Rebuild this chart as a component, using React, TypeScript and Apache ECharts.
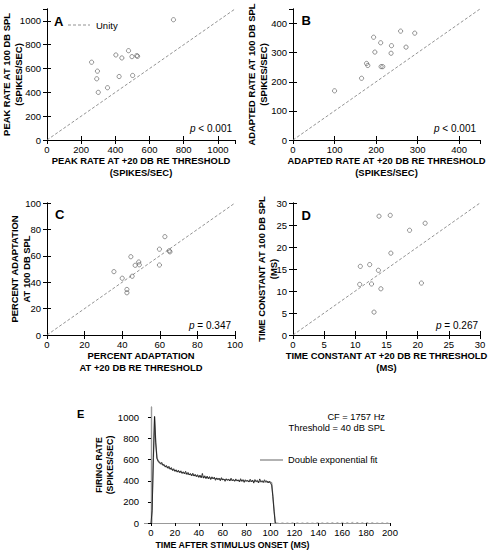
import React, { useEffect, useRef } from "react";
import * as echarts from "echarts";

const FONT = "'Liberation Sans', Arial, Helvetica, sans-serif";

// Panel A: peak rate (spikes/sec)
const peakRate20 = [740, 261, 403, 438, 477, 497, 525, 530, 295, 291, 422, 501, 300, 354];
const peakRate100 = [1010, 653, 714, 689, 750, 700, 708, 703, 578, 514, 533, 542, 400, 439];
// Panel B: adapted rate (spikes/sec)
const adaptRate20 = [100, 165, 177, 180, 194, 197, 211, 212, 216, 236, 237, 259, 272, 293];
const adaptRate100 = [169, 212, 263, 256, 353, 302, 334, 252, 252, 298, 324, 374, 319, 367];
// Panel C: percent adaptation
const pctAdapt20 = [35.6, 40, 42.5, 42.5, 44.6, 45.3, 46.9, 48.8, 49.1, 59.8, 59.8, 62.7, 65, 65.4];
const pctAdapt100 = [48, 43, 34.5, 32, 59.3, 44.5, 52.8, 55.3, 53.2, 65, 53, 74.5, 63.8, 63];
// Panel D: time constant (ms)
const tau20 = [10.8, 10.7, 12.3, 12.6, 13.0, 13.7, 13.8, 14.1, 15.6, 15.7, 18.7, 20.6, 21.2];
const tau100 = [15.6, 11.5, 16.0, 11.6, 5.2, 14.7, 27.0, 10.5, 27.2, 18.6, 23.8, 11.8, 25.4];

// Panel E: PSTH, 1-ms bins starting at 0 ms
const firingRate = [
  0, 120, 620, 1010, 760, 610, 585, 570, 560, 575,
  548, 556, 530, 545, 520, 538, 510, 526, 498, 515,
  490, 505, 482, 500, 478, 495, 470, 486, 468, 490,
  462, 480, 455, 470, 448, 472, 445, 462, 440, 458,
  432, 455, 428, 470, 425, 448, 420, 445, 418, 440,
  412, 438, 420, 435, 405, 428, 410, 425, 400, 430,
  408, 418, 395, 420, 405, 415, 398, 425, 402, 412,
  395, 418, 400, 410, 390, 420, 396, 412, 385, 410,
  398, 405, 388, 415, 392, 408, 378, 412, 395, 405,
  380, 418, 390, 402, 385, 410, 392, 400, 380, 395,
  375, 360, 250, 110, 0, 0,
];
const fitTime = [0.5, 3, 4, 5, 6, 8, 10, 15, 20, 30, 40, 50, 60, 70, 80, 90, 100, 101, 104];
const fitRate = [0, 1010, 760, 620, 590, 567, 550, 520, 497, 465, 442, 425, 413, 404, 398, 393, 389, 380, 0];
const tailTime = [105, 110, 115, 120, 125, 130, 135, 140, 145, 150, 155, 160, 165, 170, 175, 180, 185, 190, 195, 200];
const tailRate = [0, 2, 0, 3, 0, 2, 0, 4, 0, 3, 2, 6, 3, 7, 2, 4, 3, 0, 2, 0];
const eTicks = [0, 20, 40, 60, 80, 100, 120, 140, 160, 180, 200];

const pairs = (xs: number[], ys: number[]) => xs.map((x, i) => [x, ys[i]]);
const plain = (v: number) => String(v);

type Panel = {
  grid: { left: number; top: number; width: number; height: number };
  max: number;
  interval: number;
  showMax: boolean;
  xName: string;
  yName: string;
  xGap: number;
  yGap: number;
  xs: number[];
  ys: number[];
};

const panels: Panel[] = [
  {
    grid: { left: 47, top: 9, width: 188, height: 131 },
    max: 1100, interval: 200, showMax: false,
    xName: "PEAK RATE AT +20 DB RE THRESHOLD\n(SPIKES/SEC)",
    yName: "PEAK RATE AT 100 DB SPL\n(SPIKES/SEC)",
    xGap: 15, yGap: 23, xs: peakRate20, ys: peakRate100,
  },
  {
    grid: { left: 293, top: 9, width: 187, height: 131 },
    max: 450, interval: 100, showMax: false,
    xName: "ADAPTED RATE AT +20 DB RE THRESHOLD\n(SPIKES/SEC)",
    yName: "ADAPTED RATE AT 100 DB SPL\n(SPIKES/SEC)",
    xGap: 15, yGap: 24, xs: adaptRate20, ys: adaptRate100,
  },
  {
    grid: { left: 47, top: 203, width: 188, height: 132 },
    max: 100, interval: 20, showMax: true,
    xName: "PERCENT ADAPTATION\nAT +20 DB RE THRESHOLD",
    yName: "PERCENT ADAPTATION\nAT 100 DB SPL",
    xGap: 15, yGap: 15, xs: pctAdapt20, ys: pctAdapt100,
  },
  {
    grid: { left: 293, top: 203, width: 187, height: 132 },
    max: 30, interval: 5, showMax: true,
    xName: "TIME CONSTANT AT +20 DB RE THRESHOLD\n(MS)",
    yName: "TIME CONSTANT AT 100 DB SPL\n(MS)",
    xGap: 15, yGap: 14, xs: tau20, ys: tau100,
  },
];

const nameStyle = { fontSize: 9.4, fontWeight: "bold" as const, fontFamily: FONT, color: "#000", lineHeight: 11.5 };
const labelStyle = { fontSize: 9.5, fontFamily: FONT, color: "#000", formatter: plain };

function buildOption() {
  const grids: any[] = [];
  const xAxes: any[] = [];
  const yAxes: any[] = [];
  const series: any[] = [];
  const graphics: any[] = [];

  panels.forEach((p, i) => {
    grids.push({ ...p.grid, containLabel: false });
    const common = {
      gridIndex: i, type: "value", min: 0, max: p.max, interval: p.interval,
      axisLine: { show: true, lineStyle: { color: "#000", width: 1 } },
      axisTick: { show: true, inside: true, length: 4, lineStyle: { color: "#000", width: 1 } },
      splitLine: { show: false },
    };
    xAxes.push({
      ...common, position: "bottom",
      axisLabel: { ...labelStyle, margin: 4, showMaxLabel: p.showMax },
      name: p.xName, nameLocation: "middle", nameGap: p.xGap, nameTextStyle: nameStyle, nameMoveOverlap: false,
    });
    xAxes.push({ ...common, position: "top", axisLabel: { show: false } });
    yAxes.push({
      ...common, position: "left",
      axisLabel: { ...labelStyle, margin: 6, showMaxLabel: p.showMax },
      name: p.yName, nameLocation: "middle", nameRotate: 90, nameGap: p.yGap, nameTextStyle: nameStyle, nameMoveOverlap: false,
    });
    yAxes.push({ ...common, position: "right", axisLabel: { show: false } });

    series.push({
      type: "line", xAxisIndex: 2 * i, yAxisIndex: 2 * i,
      data: [[0, 0], [p.max, p.max]], showSymbol: false, symbol: "none",
      lineStyle: { color: "#777", width: 0.8, type: [3, 2] }, silent: true, z: 1,
    });
    series.push({
      type: "scatter", xAxisIndex: 2 * i, yAxisIndex: 2 * i,
      data: pairs(p.xs, p.ys), symbol: "circle", symbolSize: 4.2,
      itemStyle: { color: "rgba(255,255,255,0)", borderColor: "#555", borderWidth: 0.8 }, z: 2,
    });
  });

  // Panel E
  grids.push({ left: 145, top: 407, width: 245, height: 116, containLabel: false });
  xAxes.push({
    gridIndex: 4, type: "value", min: -5, max: 200, position: "bottom",
    axisLine: { show: true, lineStyle: { color: "#000", width: 1 } },
    axisTick: { show: true, inside: false, length: 3, customValues: eTicks, lineStyle: { color: "#000" } },
    axisLabel: { ...labelStyle, margin: 4, customValues: eTicks },
    splitLine: { show: false },
    name: "TIME AFTER STIMULUS ONSET (MS)", nameLocation: "middle", nameGap: 16, nameMoveOverlap: false,
    nameTextStyle: { ...nameStyle, fontSize: 8.8, padding: [0, 70, 0, 0] },
  });
  xAxes.push({
    gridIndex: 4, type: "value", min: -5, max: 200, position: "top",
    axisLine: { show: true, lineStyle: { color: "#999", width: 1.2 } },
    axisTick: { show: false }, axisLabel: { show: false }, splitLine: { show: false },
  });
  yAxes.push({
    gridIndex: 4, type: "value", min: 0, max: 1100, interval: 200, position: "left",
    axisLine: { show: true, lineStyle: { color: "#888", width: 1.2 } },
    axisTick: { show: true, inside: false, length: 3, lineStyle: { color: "#000" } },
    axisLabel: { ...labelStyle, margin: 6, showMaxLabel: false },
    splitLine: { show: false },
    name: "FIRING RATE\n(SPIKES/SEC)", nameLocation: "middle", nameRotate: 90, nameGap: 29, nameMoveOverlap: false,
    nameTextStyle: { ...nameStyle, fontSize: 8.8 },
  });
  yAxes.push({
    gridIndex: 4, type: "value", min: 0, max: 1100, interval: 200, position: "right",
    axisLine: { show: true, lineStyle: { color: "#999", width: 1.2 } },
    axisTick: { show: false }, axisLabel: { show: false }, splitLine: { show: false },
  });
  series.push({
    type: "line", xAxisIndex: 8, yAxisIndex: 8, data: pairs(fitTime, fitRate),
    showSymbol: false, symbol: "none", lineStyle: { color: "#888", width: 1.3 }, z: 1,
  });
  series.push({
    type: "line", xAxisIndex: 8, yAxisIndex: 8, data: firingRate.map((v, i) => [i, v]),
    showSymbol: false, symbol: "none", lineStyle: { color: "#111", width: 0.8 }, z: 2,
  });
  series.push({
    type: "line", xAxisIndex: 8, yAxisIndex: 8, data: pairs(tailTime, tailRate),
    showSymbol: false, symbol: "none", lineStyle: { color: "#aaa", width: 1, type: [2, 3] }, z: 1,
  });

  const letter = (t: string, x: number, y: number, size = 13) => ({
    type: "text", x, y,
    style: { text: t, fontSize: size, fontWeight: "bold", fontFamily: FONT, fill: "#000", textVerticalAlign: "middle", verticalAlign: "middle", textAlign: "left" },
  });
  graphics.push(letter("A", 54, 21.5), letter("B", 301.5, 20), letter("C", 55, 214.5), letter("D", 301.5, 215), letter("E", 77, 413.5, 11));

  const pText = (rel: string, val: string, x: number, y: number) => ({
    type: "text", x, y,
    style: {
      text: `{i|p} ${rel} ${val}`, textAlign: "right", verticalAlign: "middle", textVerticalAlign: "middle",
      fontSize: 10, fontFamily: FONT, fill: "#000",
      rich: { i: { fontStyle: "italic", fontSize: 10, fontFamily: FONT, fill: "#000" } },
    },
  });
  graphics.push(pText("<", "0.001", 232, 128.5), pText("<", "0.001", 476, 128.5), pText("=", "0.347", 231, 325), pText("=", "0.267", 478, 325));

  // Unity legend
  graphics.push({ type: "line", shape: { x1: 68, y1: 25, x2: 90, y2: 25 }, style: { stroke: "#777", lineWidth: 0.8, lineDash: [3, 2] } });
  graphics.push({ type: "text", x: 96, y: 25, style: { text: "Unity", fontSize: 9.5, fontFamily: FONT, fill: "#000", verticalAlign: "middle", textVerticalAlign: "middle" } });

  // Panel E annotations
  const eText = (t: string, x: number, y: number, align = "right") => ({
    type: "text", x, y,
    style: { text: t, fontSize: 9.3, fontFamily: FONT, fill: "#000", textAlign: align, verticalAlign: "middle", textVerticalAlign: "middle" },
  });
  graphics.push(eText("CF = 1757 Hz", 385, 416.5), eText("Threshold = 40 dB SPL", 385, 428));
  graphics.push({ type: "line", shape: { x1: 260, y1: 460, x2: 283, y2: 460 }, style: { stroke: "#888", lineWidth: 1.3 } });
  graphics.push(eText("Double exponential fit", 288, 460, "left"));

  return {
    animation: false,
    backgroundColor: "#fff",
    textStyle: { fontFamily: FONT },
    grid: grids,
    xAxis: xAxes,
    yAxis: yAxes,
    series,
    graphic: graphics,
  };
}

export default function App() {
  const ref = useRef<HTMLDivElement>(null);
  useEffect(() => {
    if (!ref.current) return;
    const chart = echarts.init(ref.current, undefined, { renderer: "svg" });
    chart.setOption(buildOption() as any);
    return () => chart.dispose();
  }, []);
  return (
    <div
      ref={ref}
      style={{ position: "fixed", left: 0, top: 0, width: 492, height: 557, background: "#fff" }}
    />
  );
}
